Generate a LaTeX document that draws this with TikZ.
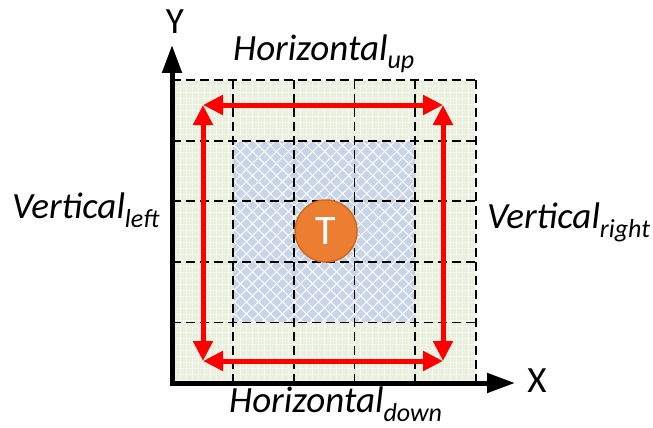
\documentclass[tikz,border=0pt]{standalone}
\usepackage{fontspec}
\setmainfont{Carlito}
\usetikzlibrary{arrows.meta,patterns.meta}

\definecolor{gridgreen}{RGB}{235,240,222}
\definecolor{finegreen}{RGB}{244,247,238}
\definecolor{hatchblue}{RGB}{200,213,232}
\definecolor{torange}{RGB}{237,125,49}
\definecolor{tborder}{RGB}{205,105,35}

\newcommand{\sublabel}[2]{\textit{#1\raisebox{-9pt}{\fontsize{26}{26}\selectfont #2}}}

\begin{document}
\begin{tikzpicture}[x=1pt, y=-1pt,
        font=\fontsize{37}{40}\selectfont,
        cell/.style={draw=black, line width=1.8pt, dash pattern=on 9pt off 5pt},
        axis/.style={line width=5pt, {Triangle[length=28pt, width=19pt]}-{Triangle[length=28pt, width=19pt]}},
        redarrow/.style={draw=red, line width=5pt, {Triangle[length=20pt, width=19pt]}-{Triangle[length=20pt, width=19pt]}},
        target/.style={circle, fill=torange, draw=tborder, line width=1.5pt, minimum size=62pt, inner sep=0pt, text=white, font=\fontsize{42}{42}\selectfont},
        sidetext/.style={inner sep=0pt, anchor=base west}
    ]
    \useasboundingbox (0,0) rectangle (653,428);

    \fill[gridgreen] (172,80) rectangle (476,383);
    \fill[pattern={Lines[angle=0, distance=6pt, line width=0.7pt]}, pattern color=finegreen] (172,80) rectangle (476,383);
    \fill[pattern={Lines[angle=90, distance=6pt, line width=0.7pt]}, pattern color=finegreen] (172,80) rectangle (476,383);
    \fill[hatchblue] (232.8,140.6) rectangle (415.2,322.4);
    \fill[pattern={Lines[angle=45, distance=8.5pt, line width=1pt]}, pattern color=white] (232.8,140.6) rectangle (415.2,322.4);
    \fill[pattern={Lines[angle=-45, distance=8.5pt, line width=1pt]}, pattern color=white] (232.8,140.6) rectangle (415.2,322.4);

    \foreach \i in {1,...,5} {
        \draw[cell] ({172+60.8*\i},80) -- ({172+60.8*\i},383);
        \draw[cell] (172,{383-60.6*\i}) -- (476,{383-60.6*\i});
    }

    \coordinate (origin) at (172,383);
    \coordinate (ytip) at (172,45);
    \coordinate (xtip) at (515,383);
    \draw[axis] (ytip) -- (origin) -- (xtip);
    \node (ylab) at (175,22) {Y};
    \node (xlab) at (537,381) {X};

    \coordinate (tl) at (203,105);
    \coordinate (tr) at (443,105);
    \coordinate (bl) at (203,361);
    \coordinate (br) at (443,361);
    \draw[redarrow] (tl) -- (tr);
    \draw[redarrow] (tl) -- (bl);
    \draw[redarrow] (bl) -- (br);
    \draw[redarrow] (tr) -- (br);

    \node[target] (tnode) at (326,231) {T};

    \node[sidetext] (hup) at (233,60) {\sublabel{Horizontal}{up}};
    \node[sidetext] (hdown) at (229,412) {\sublabel{Horizontal}{down}};
    \node[sidetext] (vleft) at (12,218) {\sublabel{Vertical}{left}};
    \node[sidetext] (vright) at (487,228) {\sublabel{Vertical}{right}};
\end{tikzpicture}
\end{document}
